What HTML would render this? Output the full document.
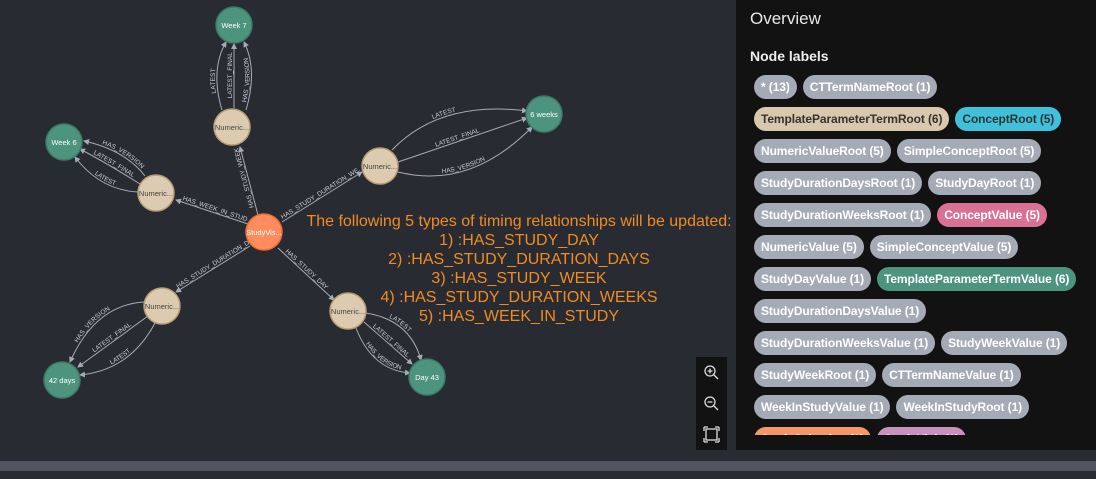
<!DOCTYPE html>
<html><head><meta charset="utf-8"><style>
*{margin:0;padding:0;box-sizing:border-box}
body{width:1096px;height:479px;background:#292b33;overflow:hidden;position:relative;font-family:"Liberation Sans",sans-serif}
#panel{position:absolute;left:736px;top:0;width:360px;height:450px;background:#121212}
#ov{position:absolute;left:14px;top:9px;color:#e8e8e8;font-size:17px}
#nl{position:absolute;left:14px;top:48px;color:#eee;font-size:14px;font-weight:bold}
#pills{position:absolute;left:18px;top:75px;width:340px;height:360px;overflow:hidden}
.row{height:32px;white-space:nowrap}
.p{display:inline-block;height:24px;line-height:24px;border-radius:12px;padding:0 7px;margin-right:6px;background:#a5abb6;color:#fff;font-weight:bold;font-size:12px;letter-spacing:-0.1px}
#strip1{position:absolute;left:0;top:461px;width:1096px;height:10px;background:#525560}
#zc{position:absolute;left:696px;top:357px;width:31px;height:93px;background:#121212}
</style></head><body>
<svg width="736" height="460" style="position:absolute;left:0;top:0" font-family="Liberation Sans, sans-serif">
<defs><marker id="a" markerWidth="6" markerHeight="6" refX="5" refY="3" orient="auto"><path d="M0,0L6,3L0,6z" fill="#a5abb6"/></marker>
<path id="e2r" d="M176,200 L248,224"/>
<path id="e4r" d="M176,292 L250,246"/>
<path id="l1r" d="M84,141 Q125,150 145,176"/>
<path id="l2r" d="M80,149 Q110,165 140,184"/>
<path id="l3r" d="M75,157 Q100,190 138,192"/>
<path id="b1r" d="M70,362 Q95,305 144,302"/>
<path id="b2r" d="M78,367 L148,316"/>
<path id="b3r" d="M80,375 Q130,370 155,323"/>
</defs>
<g fill="none" stroke="#a5abb6" stroke-width="1" marker-end="url(#a)">
<path id="e1" d="M258,215 L240,147"/>
<path d="M248,224 L176,200"/>
<path id="e3" d="M282,222 L362,172"/>
<path d="M250,246 L176,292"/>
<path id="e5" d="M278,248 L334,300"/>
<path id="t1" d="M222,110 Q210,70 226,42"/>
<path id="t2" d="M234,108 L234,44"/>
<path id="t3" d="M246,110 Q258,70 244,42"/>
<path d="M145,176 Q125,150 84,141"/>
<path d="M140,184 Q110,165 80,149"/>
<path d="M138,192 Q100,190 75,157"/>
<path id="r1" d="M392,150 Q440,100 527,111"/>
<path id="r2" d="M398,162 L527,118"/>
<path id="r3" d="M398,172 Q470,190 532,127"/>
<path d="M144,302 Q95,305 70,362"/>
<path d="M148,316 L78,367"/>
<path d="M155,323 Q130,370 80,375"/>
<path id="d1" d="M366,313 Q410,320 421,360"/>
<path id="d2" d="M364,322 L412,364"/>
<path id="d3" d="M356,328 Q372,370 410,373"/>
</g>
<g font-size="6.5" fill="#c8ccd4">
<text dy="-2"><textPath href="#e1" startOffset="12%">HAS_STUDY_WEEK</textPath></text>
<text dy="-2"><textPath href="#e2r" startOffset="8%">HAS_WEEK_IN_STUDY</textPath></text>
<text dy="-2"><textPath href="#e3" startOffset="2%">HAS_STUDY_DURATION_WE...</textPath></text>
<text dy="-2"><textPath href="#e4r" startOffset="4%">HAS_STUDY_DURATION_D...</textPath></text>
<text dy="-2"><textPath href="#e5" startOffset="10%">HAS_STUDY_DAY</textPath></text>
<text dy="-2"><textPath href="#t1" startOffset="25%">LATEST</textPath></text>
<text dy="-2"><textPath href="#t2" startOffset="15%">LATEST_FINAL</textPath></text>
<text dy="-2"><textPath href="#t3" startOffset="10%">HAS_VERSION</textPath></text>
<text dy="-2"><textPath href="#l1r" startOffset="25%">HAS_VERSION</textPath></text>
<text dy="-2"><textPath href="#l2r" startOffset="20%">LATEST_FINAL</textPath></text>
<text dy="-2"><textPath href="#l3r" startOffset="35%">LATEST</textPath></text>
<text dy="-2"><textPath href="#r1" startOffset="35%">LATEST</textPath></text>
<text dy="-2"><textPath href="#r2" startOffset="30%">LATEST_FINAL</textPath></text>
<text dy="-2"><textPath href="#r3" startOffset="30%">HAS_VERSION</textPath></text>
<text dy="-2"><textPath href="#b1r" startOffset="20%">HAS_VERSION</textPath></text>
<text dy="-2"><textPath href="#b2r" startOffset="25%">LATEST_FINAL</textPath></text>
<text dy="-2"><textPath href="#b3r" startOffset="35%">LATEST</textPath></text>
<text dy="-2"><textPath href="#d1" startOffset="30%">LATEST</textPath></text>
<text dy="-2"><textPath href="#d2" startOffset="15%">LATEST_FINAL</textPath></text>
<text dy="-2"><textPath href="#d3" startOffset="25%">HAS_VERSION</textPath></text>
</g>
<g stroke-width="1.5" font-size="7.5" text-anchor="middle">
<circle cx="264" cy="232" r="18" fill="#ff8c5e" stroke="#f06a30"/><text x="264" y="235" fill="#fff" stroke="none">StudyVis...</text>
<g fill="#4c947d" stroke="#3d7a66">
<circle cx="234" cy="25" r="18"/><circle cx="64" cy="142" r="18"/><circle cx="544" cy="114" r="18"/><circle cx="62" cy="380" r="18"/><circle cx="427" cy="377" r="18"/></g>
<g fill="#fff" stroke="none"><text x="234" y="28">Week 7</text><text x="64" y="145">Week 6</text><text x="544" y="117">6 weeks</text><text x="62" y="383">42 days</text><text x="427" y="380">Day 43</text></g>
<g fill="#dccbb0" stroke="#b89c72">
<circle cx="232" cy="127" r="18"/><circle cx="156" cy="193" r="18"/><circle cx="380" cy="166" r="18"/><circle cx="162" cy="306" r="18"/><circle cx="348" cy="311" r="18"/></g>
<g fill="#444" stroke="none"><text x="232" y="130">Numeric...</text><text x="156" y="196">Numeric...</text><text x="380" y="169">Numeric...</text><text x="162" y="309">Numeric...</text><text x="348" y="314">Numeric...</text></g>
</g>
<g fill="#f08c22" font-size="16" text-anchor="middle">
<text x="519" y="226">The following 5 types of timing relationships will be updated:</text>
<text x="519" y="245">1) :HAS_STUDY_DAY</text>
<text x="519" y="264">2) :HAS_STUDY_DURATION_DAYS</text>
<text x="519" y="283">3) :HAS_STUDY_WEEK</text>
<text x="519" y="302">4) :HAS_STUDY_DURATION_WEEKS</text>
<text x="519" y="321">5) :HAS_WEEK_IN_STUDY</text>
</g>
</svg>
<div id="zc"><svg width="31" height="93" stroke="#ddd" fill="none" stroke-width="1.3">
<circle cx="14" cy="14" r="5"/><path d="M18,18l4,4M11.5,14h5M14,11.5v5"/>
<circle cx="14" cy="45" r="5"/><path d="M18,49l4,4M11.5,45h5"/>
<rect x="10" y="72" width="11" height="11"/><path d="M8,70h4M8,70v4M23,70h-4M23,70v4M8,85h4M8,85v-4M23,85h-4M23,85v-4"/>
</svg></div>
<div id="panel">
<div id="ov">Overview</div>
<div id="nl">Node labels</div>
<div id="pills">
<div class="row"><span class="p">* (13)</span><span class="p">CTTermNameRoot (1)</span></div>
<div class="row"><span class="p" style="background:#d9c8ae;color:#333">TemplateParameterTermRoot (6)</span><span class="p" style="background:#3fc1dc;color:#333">ConceptRoot (5)</span></div>
<div class="row"><span class="p">NumericValueRoot (5)</span><span class="p">SimpleConceptRoot (5)</span></div>
<div class="row"><span class="p">StudyDurationDaysRoot (1)</span><span class="p">StudyDayRoot (1)</span></div>
<div class="row"><span class="p">StudyDurationWeeksRoot (1)</span><span class="p" style="background:#da7194">ConceptValue (5)</span></div>
<div class="row"><span class="p">NumericValue (5)</span><span class="p">SimpleConceptValue (5)</span></div>
<div class="row"><span class="p">StudyDayValue (1)</span><span class="p" style="background:#4c947d">TemplateParameterTermValue (6)</span></div>
<div class="row"><span class="p">StudyDurationDaysValue (1)</span></div>
<div class="row"><span class="p">StudyDurationWeeksValue (1)</span><span class="p">StudyWeekValue (1)</span></div>
<div class="row"><span class="p">StudyWeekRoot (1)</span><span class="p">CTTermNameValue (1)</span></div>
<div class="row"><span class="p">WeekInStudyValue (1)</span><span class="p">WeekInStudyRoot (1)</span></div>
<div class="row"><span class="p" style="background:#f79767">StudySelection (1)</span><span class="p" style="background:#c990c0">StudyVisit (1)</span></div>
</div>
</div>
<div id="strip1"></div>
</body></html>
